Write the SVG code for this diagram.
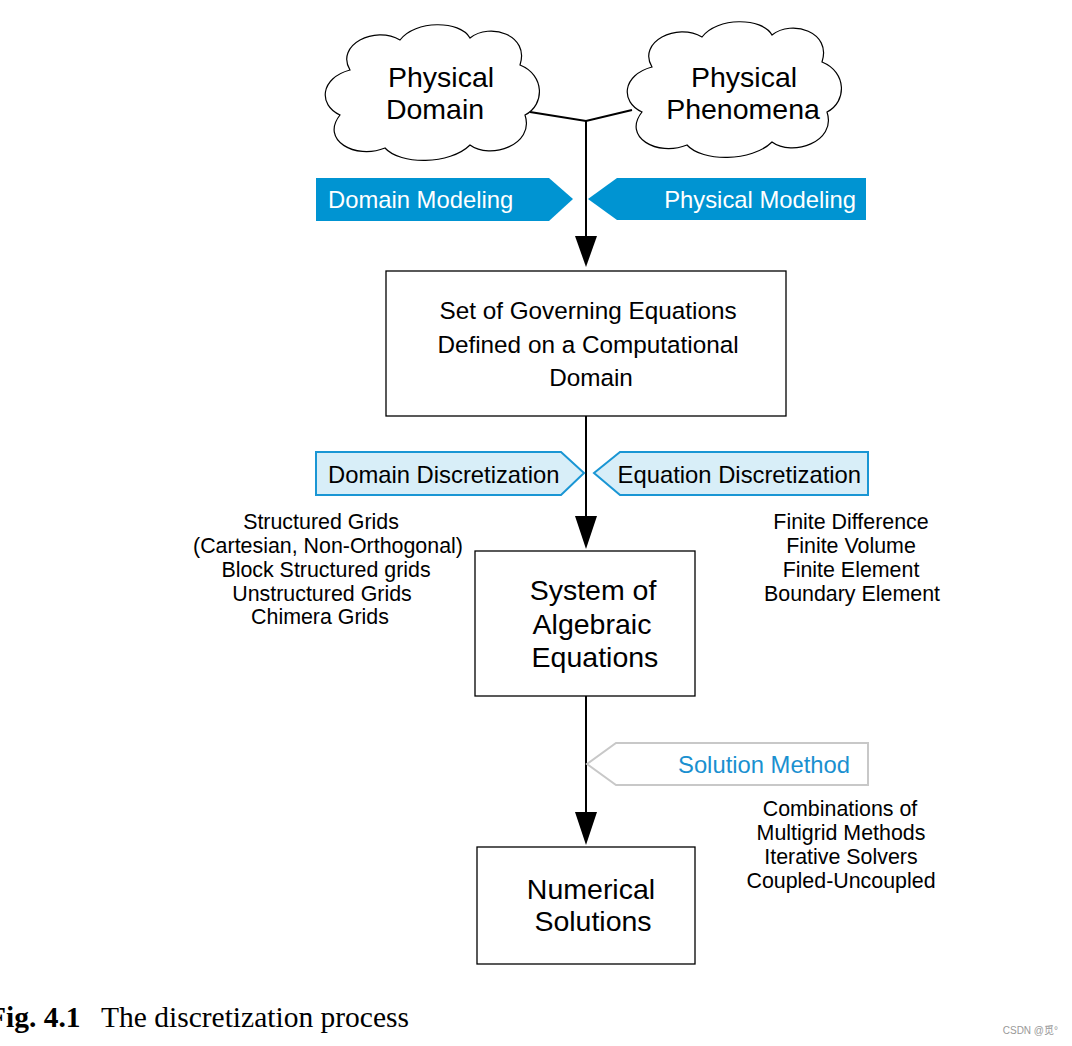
<svg xmlns="http://www.w3.org/2000/svg" width="1072" height="1046" viewBox="0 0 1072 1046">
<style>
text{font-family:"Liberation Sans",Arial,sans-serif;fill:#000}
.box{fill:#fff;stroke:#000;stroke-width:1.3}
.cloud{fill:#fff;stroke:#000;stroke-width:1.2}
.line{fill:none;stroke:#000;stroke-width:2}
.blue{fill:#0094d2}
.lblue{fill:#d8eef8;stroke:#1a96d4;stroke-width:2}
.gray{fill:#fff;stroke:#c8c8c8;stroke-width:2}
.ct{font-size:28.5px;text-anchor:middle}
.bt{font-size:24.3px;text-anchor:middle}
.side{font-size:21.4px;text-anchor:middle}
.wt{font-size:23.8px;fill:#fff}
.dt{font-size:23.8px}
</style>
<defs>
<path id="cloudShape" d="M350,70 C335,45 375,25 400,40 C415,20 460,20 470,38 C490,22 530,35 520,65 C545,75 545,105 525,115 C535,145 490,160 470,145 C450,165 400,165 385,148 C355,160 320,140 340,115 C318,105 320,78 350,70 Z"/>
</defs>
<g id="connectors">
<polyline class="line" points="530,112 586,121 632,110"/>
<line class="line" x1="586" y1="121" x2="586" y2="236"/>
<path d="M575,236 L597,236 L586,267 Z" fill="#000"/>
<line class="line" x1="586" y1="416" x2="586" y2="516"/>
<path d="M575,516 L597,516 L586,549 Z" fill="#000"/>
<line class="line" x1="586" y1="696" x2="586" y2="812"/>
<path d="M575,812 L597,812 L586,845 Z" fill="#000"/>
</g>
<g id="physical-domain">
<use href="#cloudShape" class="cloud"/>
<text class="ct" x="441" y="87">Physical</text>
<text class="ct" x="435" y="119">Domain</text>
</g>
<g id="physical-phenomena">
<use href="#cloudShape" class="cloud" transform="translate(302,-3)"/>
<text class="ct" x="744" y="87">Physical</text>
<text class="ct" x="743" y="119">Phenomena</text>
</g>
<g id="domain-modeling">
<path class="blue" d="M316,178 L549,178 L573,199 L549,221 L316,221 Z"/>
<text class="wt" x="328" y="207.5">Domain Modeling</text>
</g>
<g id="physical-modeling">
<path class="blue" d="M866,178 L617,178 L588,199 L617,220 L866,220 Z"/>
<text class="wt" x="856" y="207.5" text-anchor="end">Physical Modeling</text>
</g>
<g id="governing-equations">
<rect class="box" x="386" y="271" width="400" height="145"/>
<text class="bt" x="588" y="318.5">Set of Governing Equations</text>
<text class="bt" x="588" y="352.5">Defined on a Computational</text>
<text class="bt" x="591" y="385.5">Domain</text>
</g>
<g id="domain-discretization">
<path class="lblue" d="M316,452 L561,452 L584,473 L561,495 L316,495 Z"/>
<text class="dt" x="328" y="482.5">Domain Discretization</text>
</g>
<g id="equation-discretization">
<path class="lblue" d="M868,452 L620,452 L594,473 L620,495 L868,495 Z"/>
<text class="dt" x="861" y="482.5" text-anchor="end">Equation Discretization</text>
</g>
<g id="grid-types">
<text class="side" x="321" y="528.5">Structured Grids</text>
<text class="side" x="328" y="553">(Cartesian, Non-Orthogonal)</text>
<text class="side" x="326" y="577">Block Structured grids</text>
<text class="side" x="322" y="600.5">Unstructured Grids</text>
<text class="side" x="320" y="623.5">Chimera Grids</text>
</g>
<g id="algebraic-equations">
<rect class="box" x="475" y="551" width="220" height="145"/>
<text class="ct" x="593" y="600">System of</text>
<text class="ct" x="592" y="634">Algebraic</text>
<text class="ct" x="595" y="667">Equations</text>
</g>
<g id="discretization-methods">
<text class="side" x="851" y="528.5">Finite Difference</text>
<text class="side" x="851" y="552.5">Finite Volume</text>
<text class="side" x="851" y="576.5">Finite Element</text>
<text class="side" x="852" y="600.5">Boundary Element</text>
</g>
<g id="solution-method">
<path class="gray" d="M868,743 L616,743 L587,764 L616,785 L868,785 Z"/>
<text x="850" y="772.5" text-anchor="end" style="font-size:23.8px;fill:#1a90d0">Solution Method</text>
</g>
<g id="solver-types">
<text class="side" x="840" y="815.5">Combinations of</text>
<text class="side" x="841" y="839.5">Multigrid Methods</text>
<text class="side" x="841" y="863.5">Iterative Solvers</text>
<text class="side" x="841" y="887.5">Coupled-Uncoupled</text>
</g>
<g id="numerical-solutions">
<rect class="box" x="477" y="847" width="218" height="117"/>
<text class="ct" x="591" y="899">Numerical</text>
<text class="ct" x="593" y="931">Solutions</text>
</g>
<g id="caption">
<text x="-12" y="1027" style="font-family:'Liberation Serif','Times New Roman',serif;font-size:29.5px"><tspan font-weight="bold">Fig. 4.1</tspan><tspan x="101">The discretization process</tspan></text>
</g>
<text x="1058" y="1034" text-anchor="end" style="font-family:'Liberation Sans','Noto Sans CJK SC',sans-serif;font-size:10px;fill:#999">CSDN @觅°</text>
</svg>
